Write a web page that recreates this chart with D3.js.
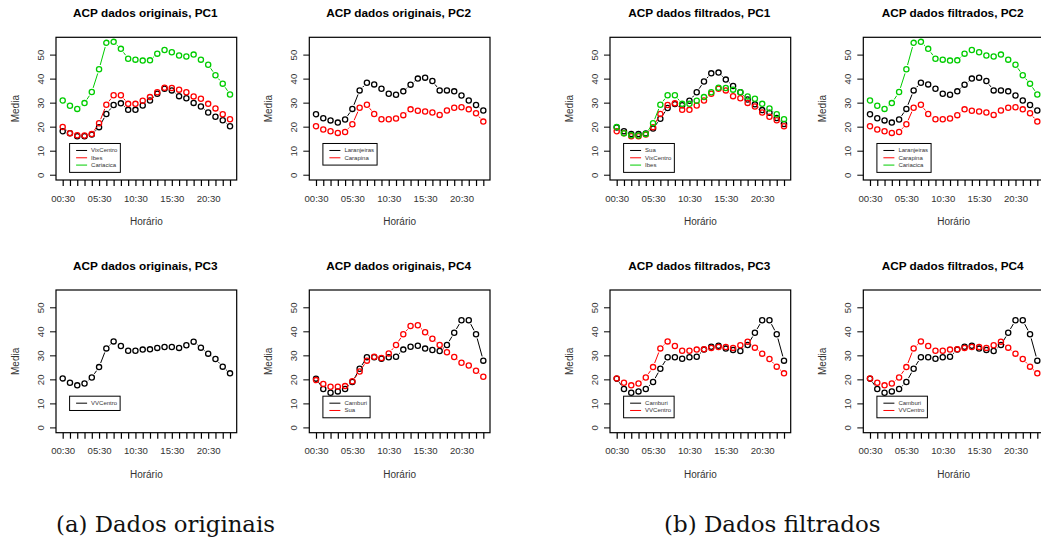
<!DOCTYPE html>
<html><head><meta charset="utf-8">
<script src="https://cdn.jsdelivr.net/npm/d3@7"></script>
<style>body{margin:0;background:#fff}svg{display:block}</style>
</head><body>
<script>
// ---- data ----
const hours = ["00:30","01:30","02:30","03:30","04:30","05:30","06:30","07:30","08:30","09:30","10:30","11:30",
               "12:30","13:30","14:30","15:30","16:30","17:30","18:30","19:30","20:30","21:30","22:30","23:30"];
const yTicks = [0, 10, 20, 30, 40, 50];
const vixCentro = [18.1,17.3,16.0,16.0,16.7,19.8,25.3,29.0,29.7,27.0,27.0,28.8,30.9,33.7,35.8,35.1,32.7,31.8,29.9,28.4,25.9,24.1,22.7,20.2];
const ibes = [19.9,17.3,16.4,16.3,16.9,21.4,29.1,33.1,33.1,29.5,29.5,30.8,32.3,34.3,36.2,36.1,35.4,34.3,32.6,31.6,29.5,27.6,25.2,23.1];
const cariacica = [30.9,28.7,27.4,29.8,34.4,43.9,54.9,55.3,52.4,48.3,47.9,47.5,47.6,50.4,51.9,51.0,49.6,49.2,50.0,47.9,45.8,41.4,37.9,33.4];
const laranjeiras = [25.2,23.5,22.6,21.7,23.0,27.4,35.1,38.3,37.6,35.8,33.7,33.3,34.7,37.5,40.0,40.4,39.0,35.1,35.1,34.7,33.0,30.9,29.0,26.7];
const carapina = [20.2,18.8,18.1,17.4,17.8,21.0,27.9,29.1,25.3,23.1,23.1,23.4,24.8,27.2,26.6,26.3,25.9,24.9,26.7,27.9,28.1,27.2,25.6,22.1];
const vvCentro = [20.4,18.6,17.5,18.3,20.8,25.1,32.9,35.8,33.9,31.9,31.9,32.4,32.5,33.1,33.5,33.5,33.1,34.2,35.7,33.2,30.7,28.5,25.3,22.5];
const camburi = [20.3,16.0,14.4,15.0,16.0,18.9,24.4,29.2,29.2,28.6,29.2,29.4,32.4,33.6,34.0,32.8,32.2,31.8,34.3,39.4,44.6,44.6,38.8,27.8];
const sua = [19.7,18.1,16.9,16.9,17.2,19.2,23.3,27.8,29.4,28.9,30.8,34.3,38.8,42.2,42.5,39.6,36.9,34.3,31.3,29.3,26.9,25.8,23.6,21.1];
const captions = ["(a) Dados originais", "(b) Dados filtrados"];

const GREEN = "#00CD00", RED = "#FF0000", BLACK = "#000000";
const panels = [
  {title:"ACP dados originais, PC1", bx:56,    by:37.3, series:[["VixCentro",vixCentro,BLACK],["Ibes",ibes,RED],["Cariacica",cariacica,GREEN]]},
  {title:"ACP dados originais, PC2", bx:309.3, by:37.3, series:[["Laranjeiras",laranjeiras,BLACK],["Carapina",carapina,RED]]},
  {title:"ACP dados originais, PC3", bx:56,    by:290,  series:[["VVCentro",vvCentro,BLACK]]},
  {title:"ACP dados originais, PC4", bx:309.3, by:290,  series:[["Camburi",camburi,BLACK],["Sua",sua,RED]]},
  {title:"ACP dados filtrados, PC1", bx:610,   by:37.3, series:[["Sua",sua,BLACK],["VixCentro",vixCentro,RED],["Ibes",ibes,GREEN]]},
  {title:"ACP dados filtrados, PC2", bx:863.3, by:37.3, series:[["Laranjeiras",laranjeiras,BLACK],["Carapina",carapina,RED],["Cariacica",cariacica,GREEN]]},
  {title:"ACP dados filtrados, PC3", bx:610,   by:290,  series:[["Camburi",camburi,BLACK],["VVCentro",vvCentro,RED]]},
  {title:"ACP dados filtrados, PC4", bx:863.3, by:290,  series:[["Camburi",camburi,BLACK],["VVCentro",vvCentro,RED]]}
];

const W = 180.7, H = 142.7;
const SANS = "'Liberation Sans', Arial, Helvetica, sans-serif";
const svg = d3.select("body").append("svg").attr("width",1041).attr("height",542)
  .style("font-family", SANS);

const x = d3.scaleLinear().domain([1 - 0.92, 24 + 0.92]).range([0, W]);
const y = d3.scaleLinear().domain([-2.2, 57.2]).range([H, 0]);
const GAP = 4.4;

panels.forEach(p => {
  const g = svg.append("g").attr("transform", `translate(${p.bx},${p.by})`);

  // title
  g.append("text").attr("x", W/2 - 1).attr("y", -20).attr("text-anchor","middle")
    .attr("font-weight","bold").attr("font-size","11.8px").text(p.title);

  // y axis
  const ya = g.append("g").call(d3.axisLeft(y).tickValues(yTicks).tickSize(6).tickSizeOuter(0));
  ya.select(".domain").remove();
  ya.selectAll(".tick line").attr("stroke","#000");
  ya.selectAll(".tick text").attr("transform","rotate(-90)").attr("x",0).attr("y",-12.5).attr("dy",0)
    .attr("text-anchor","middle").attr("font-size","9.6px").attr("font-family",SANS).attr("fill","#333");

  // x axis
  const xa = g.append("g").attr("transform",`translate(0,${H})`)
    .call(d3.axisBottom(x).tickValues(d3.range(1,25)).tickSize(6).tickSizeOuter(0)
      .tickFormat(i => (i - 1) % 5 === 0 ? hours[i-1] : ""));
  xa.select(".domain").remove();
  xa.selectAll(".tick line").attr("stroke","#000").attr("stroke-width",1.2);
  xa.selectAll(".tick text").attr("y",21.5).attr("dy",0).attr("font-size","9.6px")
    .attr("font-family",SANS).attr("fill","#333");

  // box
  g.append("rect").attr("x",0).attr("y",0).attr("width",W).attr("height",H)
    .attr("fill","none").attr("stroke","#000").attr("stroke-width",1.2);

  // axis labels
  g.append("text").attr("x",W/2).attr("y",H+45).attr("text-anchor","middle")
    .attr("font-size","10px").attr("fill","#333").text("Horário");
  g.append("text").attr("transform","rotate(-90)").attr("x",-H/2).attr("y",-37.5)
    .attr("text-anchor","middle").attr("font-size","10px").attr("fill","#333").text("Media");

  // series (type "b": points + gapped segments)
  p.series.forEach(([name, vals, col]) => {
    const pts = vals.map((v,i) => [x(i+1), y(v)]);
    const segs = [];
    for (let i = 0; i < pts.length - 1; i++) {
      const [x1,y1] = pts[i], [x2,y2] = pts[i+1];
      const d = Math.hypot(x2-x1, y2-y1);
      if (d > 2*GAP) {
        const ux = (x2-x1)/d, uy = (y2-y1)/d;
        segs.push([x1+ux*GAP, y1+uy*GAP, x2-ux*GAP, y2-uy*GAP]);
      }
    }
    g.append("g").selectAll("line").data(segs).join("line")
      .attr("x1",d=>d[0]).attr("y1",d=>d[1]).attr("x2",d=>d[2]).attr("y2",d=>d[3])
      .attr("stroke",col).attr("stroke-width",1);
    g.append("g").selectAll("circle").data(pts).join("circle")
      .attr("cx",d=>d[0]).attr("cy",d=>d[1]).attr("r",2.6)
      .attr("fill","none").attr("stroke",col).attr("stroke-width",1.3);
  });

  // legend
  const L = x(1.95), T = y(13), rowH = 7.3;
  const lg = g.append("g").attr("transform",`translate(${L},${T})`);
  const box = lg.append("rect").attr("fill","#fff").attr("stroke","#000").attr("stroke-width",1);
  let maxW = 0;
  p.series.forEach(([name,,col], i) => {
    const cy = 7 + i*rowH;
    lg.append("line").attr("x1",6.5).attr("x2",17.5).attr("y1",cy).attr("y2",cy)
      .attr("stroke",col).attr("stroke-width",1);
    const t = lg.append("text").attr("x",21.5).attr("y",cy+2).attr("font-size","6px")
      .attr("fill","#333").text(name);
    maxW = Math.max(maxW, t.node().getComputedTextLength());
  });
  box.attr("x",0).attr("y",0).attr("width",21.5+maxW+3).attr("height",p.series.length*rowH+7);
});

// captions (serif, fitted to measured widths)
const capSpec = [[56, 219], [664, 216.7]];
captions.forEach((c, i) => {
  const t = svg.append("text").attr("x",capSpec[i][0]).attr("y",532)
    .attr("font-family","'DejaVu Serif', 'Liberation Serif', serif").attr("font-size","22px")
    .attr("fill","#111").text(c);
  const w = t.node().getComputedTextLength();
  t.attr("font-size", (22*capSpec[i][1]/w).toFixed(2)+"px");
});
</script>
</body></html>
